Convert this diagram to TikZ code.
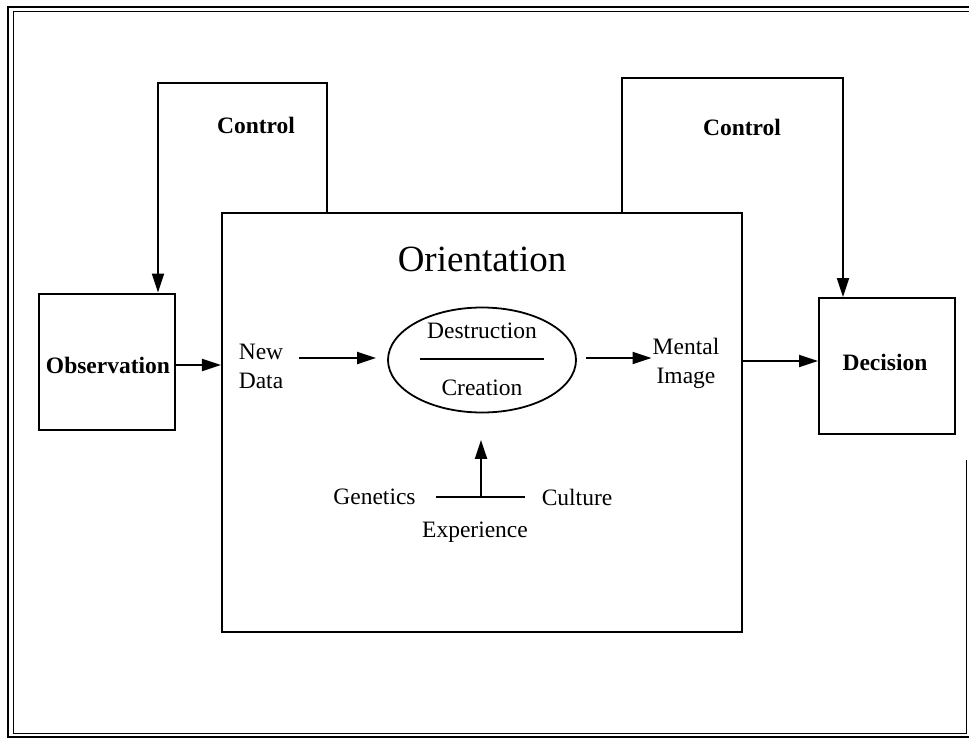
\documentclass[tikz,border=0pt]{standalone}
\usepackage{fontspec}
\setmainfont{Liberation Serif}
\usetikzlibrary{arrows.meta,shapes.geometric}
\begin{document}
\begin{tikzpicture}[x=1bp,y=-1bp,
  box/.style={draw,line width=2bp,minimum width=136bp,minimum height=136bp,inner sep=0pt,font=\fontsize{23.5bp}{28bp}\selectfont\bfseries},
  bigbox/.style={draw,line width=2bp,minimum width=520bp,minimum height=419bp,inner sep=0pt},
  oval/.style={draw,ellipse,line width=1.8bp,minimum width=188bp,minimum height=105bp,inner sep=0pt},
  txt/.style={inner sep=0pt,font=\fontsize{23.5bp}{29bp}\selectfont,align=center},
  btxt/.style={inner sep=0pt,font=\fontsize{23.5bp}{28bp}\selectfont\bfseries},
  arr/.style={line width=2.1bp,-{Triangle[length=19bp,width=12bp]}},
  plain/.style={line width=2bp}]
\useasboundingbox (0,0) rectangle (969,740);
% frame
\draw[line width=2.6bp] (969,7) -- (8,7) -- (8,737) -- (969,737);
\draw[line width=0.9bp] (969,11.5) -- (13,11.5) -- (13,733) -- (966,733) -- (966,460);
% boxes
\node[box] (obs) at (107,361.5) {};
\node[btxt,anchor=base] (obst) at (108,373) {Observation};
\node[box] (dec) at (887,366) {};
\node[btxt,anchor=base] (dect) at (885,370) {Decision};
\node[bigbox] (ori) at (482,422.5) {};
\node[inner sep=0pt,anchor=base,font=\fontsize{37bp}{40bp}\selectfont] (orit) at (482,271) {Orientation};
\node[oval] (ell) at (482,360) {};
\node[txt,anchor=base] (des) at (482,338) {Destruction};
\node[txt,anchor=base] (cre) at (482,395) {Creation};
\draw[line width=1.8bp] (420,359) coordinate (d1) -- (544,359) coordinate (d2);
\node[txt] (nd) at (261,366) {New\\Data};
\node[txt] (mi) at (686,363) {Mental\\Image};
\node[txt,anchor=base] (gen) at (374.5,504) {Genetics};
\node[txt,anchor=base] (cul) at (577,505) {Culture};
\node[txt,anchor=base] (exp) at (475,537) {Experience};
\node[btxt,anchor=base] (c1) at (256,133) {Control};
\node[btxt,anchor=base] (c2) at (742,135) {Control};
\coordinate (bar) at (481,496.5);
% connectors
\draw[arr] ([xshift=106bp]ori.north west) -- ++(0,-129) -| ([xshift=51bp]obs.north);
\draw[arr] ([xshift=401bp]ori.north west) -- ++(0,-134) -| ([xshift=-44bp]dec.north);
\draw[arr] ([yshift=-3.5bp]obs.east) -- ([yshift=-3.5bp]obs.east -| ori.west);
\draw[arr] ([yshift=5bp]dec.west -| ori.east) -- ([yshift=5bp]dec.west);
\draw[arr,shorten <=16bp,shorten >=11bp] (nd.east |- 0,358) -- (ell.west |- 0,358);
\draw[arr,shorten <=9bp,shorten >=1bp] (ell.east |- 0,358) -- (mi.west |- 0,358);
\draw[plain,shorten <=20bp,shorten >=17bp] (gen.east |- bar) -- (cul.west |- bar);
\draw[arr,shorten >=26.5bp] (bar) -- (bar |- ell.south);
\end{tikzpicture}
\end{document}
